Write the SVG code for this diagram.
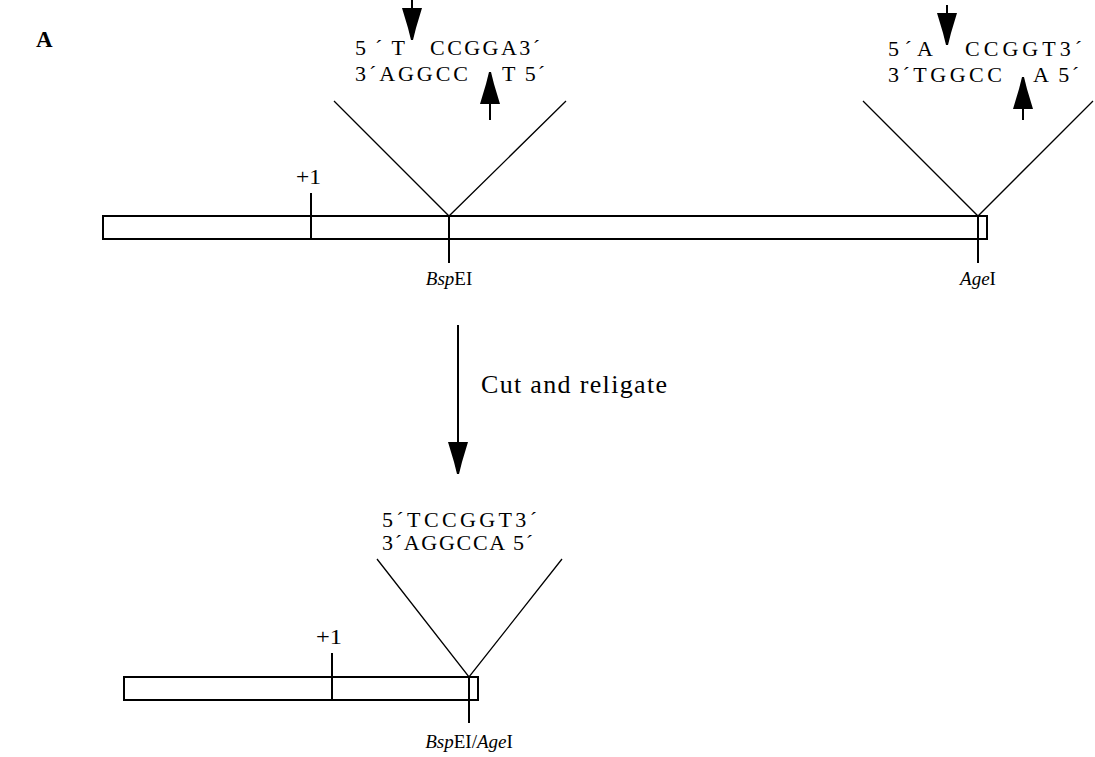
<svg xmlns="http://www.w3.org/2000/svg" width="1095" height="757" viewBox="0 0 1095 757">
  <style>
    text { font-family: "Liberation Serif", "Times New Roman", serif; fill: #000; }
    .seq { font-size: 22px; }
    .lbl { font-size: 19px; }
    .pos { font-size: 22px; }
    .panel { font-size: 23px; font-weight: bold; }
    .step { font-size: 26px; }
    .it { font-style: italic; }
    .bar { fill: #fff; stroke: #000; stroke-width: 2; }
    .tick { stroke: #000; stroke-width: 2; fill: none; }
    .vee { stroke: #000; stroke-width: 1.3; fill: none; }
    .shaft { stroke: #000; stroke-width: 2; fill: none; }
    .head { fill: #000; stroke: none; }
  </style>
  <defs>
    <!-- tapered arrowhead, tip at origin, pointing down -->
    <path id="headDown" class="head" d="M -10 -32 L 10 -32 L 7 -22 L 4 -12 L 1 0 L -1 0 L -4 -12 L -7 -22 Z"/>
  </defs>

  <rect width="1095" height="757" fill="#fff"/>

  <text class="panel" x="36" y="47">A</text>

  <!-- parent construct -->
  <g id="construct-parent">
    <rect class="bar" x="103" y="216" width="884" height="23"/>
    <line class="tick" x1="311" y1="193" x2="311" y2="239"/>
    <text class="pos" x="296" y="184" textLength="25" lengthAdjust="spacingAndGlyphs">+1</text>
    <line class="tick" x1="449" y1="216" x2="449" y2="263"/>
    <text class="lbl" x="449" y="285" text-anchor="middle"><tspan class="it">Bsp</tspan>EI</text>
    <line class="tick" x1="978" y1="216" x2="978" y2="263"/>
    <text class="lbl" x="978" y="285" text-anchor="middle"><tspan class="it">Age</tspan>I</text>
  </g>

  <!-- BspEI recognition site -->
  <g id="site-bspei">
    <polyline class="vee" points="334,101 449,216 566,101"/>
    <text class="seq" x="355" y="55" textLength="50" lengthAdjust="spacing">5´T</text>
    <text class="seq" x="430" y="55" textLength="110" lengthAdjust="spacing">CCGGA3´</text>
    <text class="seq" x="355" y="81" textLength="113" lengthAdjust="spacing">3´AGGCC</text>
    <text class="seq" x="502" y="81" textLength="43" lengthAdjust="spacing">T 5´</text>
    <line class="shaft" x1="412" y1="0" x2="412" y2="36"/>
    <use href="#headDown" transform="translate(412,40)"/>
    <line class="shaft" x1="490" y1="76" x2="490" y2="120"/>
    <use href="#headDown" transform="translate(490,72) rotate(180)"/>
  </g>

  <!-- AgeI recognition site -->
  <g id="site-agei">
    <polyline class="vee" points="863,101 978,216 1093,101"/>
    <text class="seq" x="888" y="56" textLength="45" lengthAdjust="spacing">5´A</text>
    <text class="seq" x="965" y="56" textLength="117" lengthAdjust="spacing">CCGGT3´</text>
    <text class="seq" x="888" y="82" textLength="114" lengthAdjust="spacing">3´TGGCC</text>
    <text class="seq" x="1033" y="82" textLength="46" lengthAdjust="spacing">A 5´</text>
    <line class="shaft" x1="947" y1="5" x2="947" y2="41"/>
    <use href="#headDown" transform="translate(947,45)"/>
    <line class="shaft" x1="1023" y1="81" x2="1023" y2="120"/>
    <use href="#headDown" transform="translate(1023,77) rotate(180)"/>
  </g>

  <!-- religated construct -->
  <g id="construct-religated">
    <rect class="bar" x="124" y="677" width="354" height="23"/>
    <line class="tick" x1="332" y1="653" x2="332" y2="700"/>
    <text class="pos" x="316" y="644" textLength="26" lengthAdjust="spacingAndGlyphs">+1</text>
    <line class="tick" x1="469" y1="677" x2="469" y2="723"/>
    <text class="lbl" x="469" y="748" text-anchor="middle"><tspan class="it">Bsp</tspan>EI/<tspan class="it">Age</tspan>I</text>
  </g>

  <!-- hybrid BspEI/AgeI junction -->
  <g id="site-fused">
    <polyline class="vee" points="377,559 469,677 562,559"/>
    <text class="seq" x="382" y="527" textLength="155" lengthAdjust="spacing">5´TCCGGT3´</text>
    <text class="seq" x="382" y="550" textLength="151" lengthAdjust="spacing">3´AGGCCA 5´</text>
  </g>

  <!-- process step -->
  <g id="connectors">
    <line class="shaft" x1="458" y1="325" x2="458" y2="469"/>
    <use href="#headDown" transform="translate(458,474)"/>
    <text class="step" x="481" y="393" textLength="186" lengthAdjust="spacing">Cut and religate</text>
  </g>
</svg>
